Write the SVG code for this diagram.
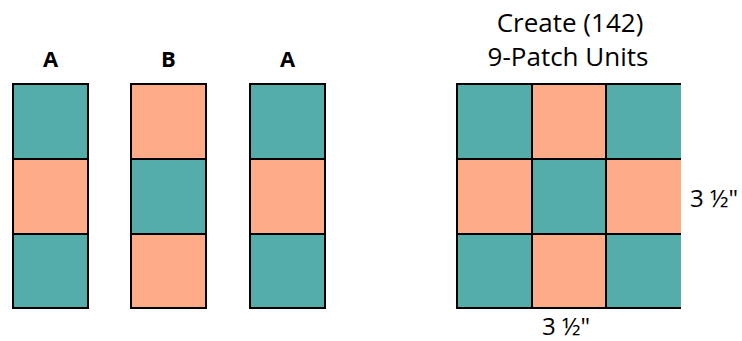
<svg xmlns="http://www.w3.org/2000/svg" width="742" height="341" viewBox="0 0 742 341">
<style>
.t{fill:#55ada9}
.p{fill:#feab88}
.sq{stroke:#000;stroke-width:2}
.ln{stroke:#000;stroke-width:2;fill:none}
.lbl{font-family:"Open Sans","Liberation Sans",sans-serif;font-weight:bold;font-size:22px;fill:#000;text-anchor:middle}
.txt{font-family:"Open Sans","Liberation Sans",sans-serif;font-size:26px;fill:#000;text-anchor:middle}
.dim{font-family:"Open Sans","Liberation Sans",sans-serif;font-size:24px;fill:#000}
</style>
<rect width="742" height="341" fill="#fff"/>
<g id="strip-a1">
<text class="lbl" x="50.5" y="67">A</text>
<rect class="t sq" x="13" y="84" width="75" height="75"/>
<rect class="p sq" x="13" y="159" width="75" height="75"/>
<rect class="t sq" x="13" y="234" width="75" height="74"/>
</g>
<g id="strip-b">
<text class="lbl" x="168.5" y="67">B</text>
<rect class="p sq" x="131" y="84" width="75" height="75"/>
<rect class="t sq" x="131" y="159" width="75" height="75"/>
<rect class="p sq" x="131" y="234" width="75" height="74"/>
</g>
<g id="strip-a2">
<text class="lbl" x="287.5" y="67">A</text>
<rect class="t sq" x="250" y="84" width="75" height="75"/>
<rect class="p sq" x="250" y="159" width="75" height="75"/>
<rect class="t sq" x="250" y="234" width="75" height="74"/>
</g>
<g id="nine-patch">
<text class="txt" x="570" y="32">Create (142)</text>
<text class="txt" x="568" y="66">9-Patch Units</text>
<rect class="t" x="457" y="84" width="75" height="75"/>
<rect class="p" x="532" y="84" width="74" height="75"/>
<rect class="t" x="606" y="84" width="75" height="75"/>
<rect class="p" x="457" y="159" width="75" height="75"/>
<rect class="t" x="532" y="159" width="74" height="75"/>
<rect class="p" x="606" y="159" width="75" height="75"/>
<rect class="t" x="457" y="234" width="75" height="74"/>
<rect class="p" x="532" y="234" width="74" height="74"/>
<rect class="t" x="606" y="234" width="75" height="74"/>
<path class="ln" d="M681 84H457V308H681M457 159H681M457 234H681M532 84V308M606 84V308"/>
<text class="dim" x="690" y="207">3 ½"</text>
<text class="dim" x="566" y="335" text-anchor="middle">3 ½"</text>
</g>
<g id="connectors"/>
</svg>
